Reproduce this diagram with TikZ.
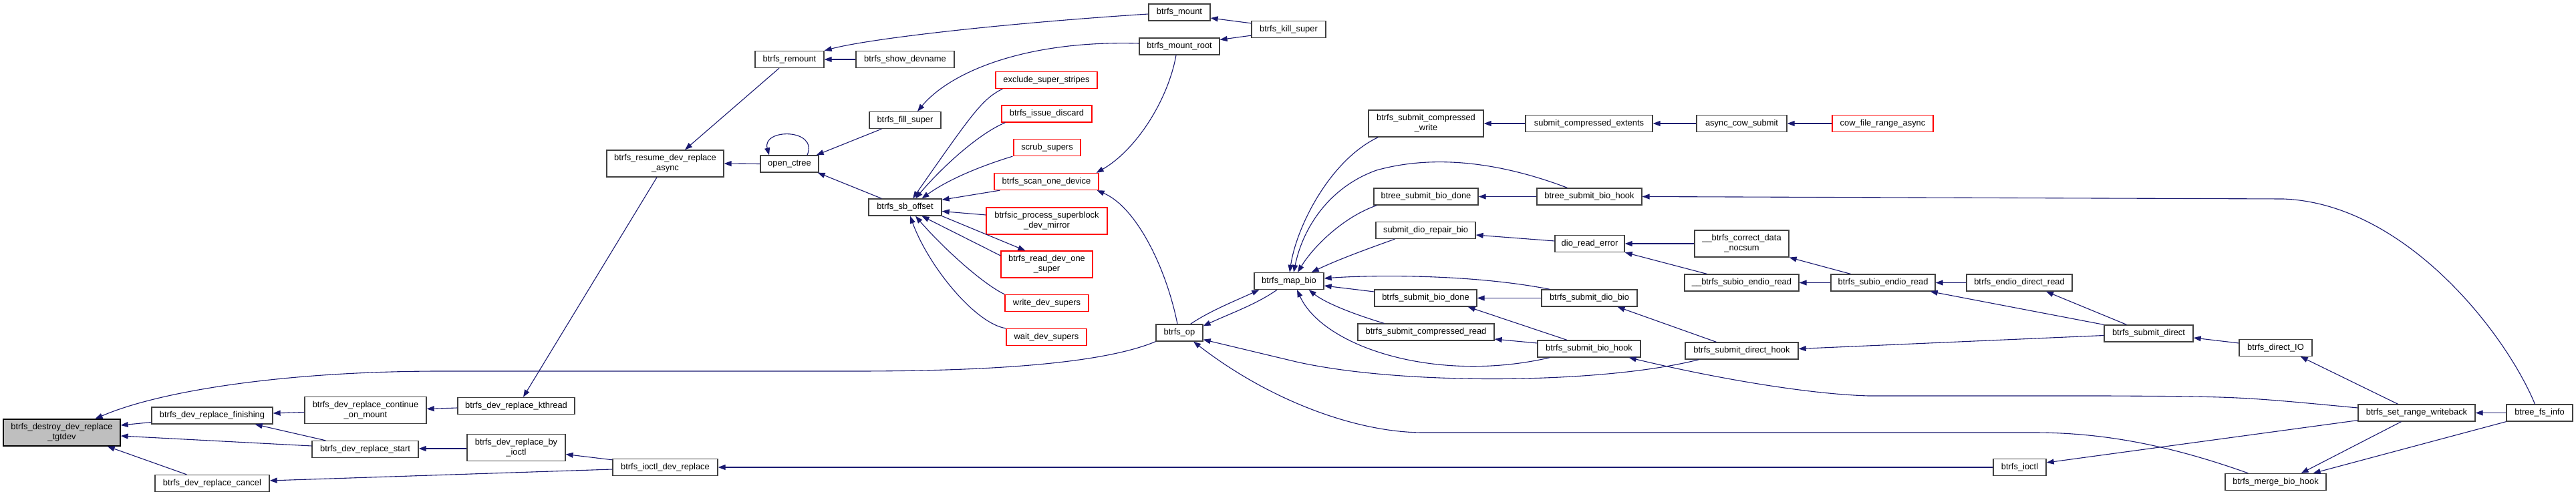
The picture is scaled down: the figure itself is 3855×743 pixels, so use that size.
\documentclass[tikz,border=0pt]{standalone}
\usepackage{fontspec}
\setmainfont{Liberation Sans}
\usetikzlibrary{arrows.meta,positioning,calc}
\definecolor{edgeblue}{HTML}{191970}
\definecolor{rootgray}{HTML}{BFBFBF}
\definecolor{boxline}{HTML}{404040}
\definecolor{truncred}{HTML}{FF0000}
\tikzset{
  fnbox/.style={draw=boxline, rectangle, line width=1.3pt, fill=white, minimum height=25pt, inner sep=0pt, align=center, font=\fontsize{12.9}{15}\selectfont},
  tallbox/.style={fnbox, minimum height=40pt},
  rootbox/.style={tallbox, fill=rootgray, draw=black},
  redbox/.style={fnbox, draw=truncred},
  redtall/.style={tallbox, draw=truncred},
  call/.style={-{Triangle[length=11pt, width=8pt]}, draw=edgeblue, line width=1.1pt},
}
\begin{document}
\begin{tikzpicture}[x=1pt, y=-1pt]
\useasboundingbox (0,0) rectangle (3855,743);

% Left part
\node[rootbox, minimum width=175pt] (destroy) at (92.5,648) {btrfs\_destroy\_dev\_replace\\\_tgtdev};
\node[fnbox, minimum width=181pt] (fin) at (317.5,622.5) {btrfs\_dev\_replace\_finishing};
\node[fnbox, minimum width=171pt] (cancel) at (317.5,724) {btrfs\_dev\_replace\_cancel};
\node[tallbox, minimum width=182pt] (contmount) at (547,614.5) {btrfs\_dev\_replace\_continue\\\_on\_mount};
\node[fnbox, minimum width=159pt] (start) at (546.5,673) {btrfs\_dev\_replace\_start};
\node[fnbox, minimum width=175pt] (kthread) at (772.5,608) {btrfs\_dev\_replace\_kthread};
\node[tallbox, minimum width=147pt] (byioctl) at (772.5,670.5) {btrfs\_dev\_replace\_by\\\_ioctl};
\node[fnbox, minimum width=157pt] (ioctldr) at (995.5,700) {btrfs\_ioctl\_dev\_replace};
\node[tallbox, minimum width=175pt] (resume) at (995.5,245) {btrfs\_resume\_dev\_replace\\\_async};
\node[fnbox, minimum width=103pt] (remount) at (1181.5,89) {btrfs\_remount};
\node[fnbox, minimum width=87pt] (openctree) at (1181.5,245.5) {open\_ctree};
\node[fnbox, minimum width=147pt] (showdev) at (1354.5,89) {btrfs\_show\_devname};
\node[fnbox, minimum width=107pt] (fillsuper) at (1354.5,180) {btrfs\_fill\_super};
\node[fnbox, minimum width=109pt] (sboffset) at (1354.5,310.5) {btrfs\_sb\_offset};

% Super block users
\node[fnbox, minimum width=92pt] (mount) at (1765,18.5) {btrfs\_mount};
\node[fnbox, minimum width=120pt] (mountroot) at (1765,69.5) {btrfs\_mount\_root};
\node[fnbox, minimum width=111pt] (killsuper) at (1928.5,44) {btrfs\_kill\_super};
\node[redbox, minimum width=152pt] (exclude) at (1566,120) {exclude\_super\_stripes};
\node[redbox, minimum width=135pt] (discard) at (1566.5,170.5) {btrfs\_issue\_discard};
\node[redbox, minimum width=100pt] (scrub) at (1567,221) {scrub\_supers};
\node[redbox, minimum width=156pt] (scan) at (1566,272) {btrfs\_scan\_one\_device};
\node[redtall, minimum width=181pt] (btrfsic) at (1566.5,331) {btrfsic\_process\_superblock\\\_dev\_mirror};
\node[redtall, minimum width=137pt] (readone) at (1566.5,396) {btrfs\_read\_dev\_one\\\_super};
\node[redbox, minimum width=125pt] (writesup) at (1566.5,454) {write\_dev\_supers};
\node[redbox, minimum width=120pt] (waitsup) at (1566,505) {wait\_dev\_supers};
\node[fnbox, minimum width=70pt] (op) at (1765,498.5) {btrfs\_op};
\node[fnbox, minimum width=104pt] (mapbio) at (1929,421) {btrfs\_map\_bio};

% Bio submission
\node[tallbox, minimum width=172pt] (compwrite) at (2134,185) {btrfs\_submit\_compressed\\\_write};
\node[fnbox, minimum width=190pt] (compext) at (2378,185) {submit\_compressed\_extents};
\node[fnbox, minimum width=135pt] (asynccow) at (2606.5,185) {async\_cow\_submit};
\node[redbox, minimum width=151pt] (cowrange) at (2817.5,185) {cow\_file\_range\_async};
\node[fnbox, minimum width=156pt] (btreedone) at (2134,294.5) {btree\_submit\_bio\_done};
\node[fnbox, minimum width=157pt] (btreehook) at (2378.5,294.5) {btree\_submit\_bio\_hook};
\node[fnbox, minimum width=149pt] (diorepair) at (2133.5,345) {submit\_dio\_repair\_bio};
\node[fnbox, minimum width=104pt] (dioreaderr) at (2379,365) {dio\_read\_error};
\node[tallbox, minimum width=141pt] (correct) at (2606.5,365) {\_\_btrfs\_correct\_data\\\_nocsum};
\node[fnbox, minimum width=171pt] (subioint) at (2606.5,423.5) {\_\_btrfs\_subio\_endio\_read};
\node[fnbox, minimum width=153pt] (biodone) at (2133.5,446.5) {btrfs\_submit\_bio\_done};
\node[fnbox, minimum width=143pt] (diobio) at (2378.5,446.5) {btrfs\_submit\_dio\_bio};
\node[fnbox, minimum width=204pt] (compread) at (2134,497.5) {btrfs\_submit\_compressed\_read};
\node[fnbox, minimum width=154pt] (biohook) at (2378,522.5) {btrfs\_submit\_bio\_hook};
\node[fnbox, minimum width=169pt] (directhook) at (2606.5,525.5) {btrfs\_submit\_direct\_hook};
\node[fnbox, minimum width=156pt] (subio) at (2818,423.5) {btrfs\_subio\_endio\_read};
\node[fnbox, minimum width=158pt] (endiodirect) at (3022,423.5) {btrfs\_endio\_direct\_read};
\node[fnbox, minimum width=133pt] (submitdirect) at (3215.5,499.5) {btrfs\_submit\_direct};
\node[fnbox, minimum width=79pt] (ioctl) at (3022.5,700) {btrfs\_ioctl};
\node[fnbox, minimum width=109pt] (directio) at (3405.5,521) {btrfs\_direct\_IO};
\node[fnbox, minimum width=175pt] (setrange) at (3616.5,618.5) {btrfs\_set\_range\_writeback};
\node[fnbox, minimum width=99pt] (fsinfo) at (3800.5,618.5) {btree\_fs\_info};
\node[fnbox, minimum width=151pt] (mergehook) at (3405.5,722) {btrfs\_merge\_bio\_hook};

% Calls into the root
\draw[call] (op.south west) .. controls (1650,545) and (1480,556) .. (1280,556) -- (660,556) .. controls (430,556) and (240,585) .. ($(destroy.north)+(50,0)$);
\draw[call] ($(fin.west)+(0,10)$) -- ($(destroy.east)+(0,-11)$);
\draw[call] ($(start.west)+(0,-5)$) -- ($(destroy.east)+(0,5)$);
\draw[call] ($(cancel.north west)+(48,0)$) -- ($(destroy.south east)+(-20,0)$);
\draw[call] ($(contmount.west)+(0,3)$) -- ($(fin.east)+(0,-3.5)$);
\draw[call] ($(start.north west)+(21,0)$) -- ($(fin.south east)+(-27,0)$);
\draw[call] ($(kthread.west)+(0,3)$) -- ($(contmount.east)+(0,-2)$);
\draw[call] ($(byioctl.west)+(0,1.5)$) -- ($(start.east)+(0,-1)$);
\draw[call] ($(ioctldr.west)+(0,3)$) -- ($(cancel.east)+(0,-4)$);
\draw[call] ($(ioctldr.north west)+(0,2)$) -- ($(byioctl.east)+(0,10)$);
\draw[call] (ioctl.west) -- (ioctldr.east);
\draw[call] ($(resume.south)+(-12.5,0)$) -- ($(kthread.north)+(10.5,0)$);
\draw[call] (openctree.west) -- (resume.east);
\draw[call] ($(remount.south)+(-15.5,0)$) -- ($(resume.north)+(29.5,0)$);
\draw[call] (showdev.west) -- (remount.east);
\draw[call] ($(mount.west)+(0,2.5)$) .. controls (1500,35) and (1300,58) .. (remount.north east);
\draw[call] ($(killsuper.north west)+(0,4)$) -- ($(mount.east)+(0,8.5)$);
\draw[call] ($(killsuper.south west)+(0,-4)$) -- ($(mountroot.east)+(0,-10)$);
\draw[call] ($(openctree.north)+(26.5,0)$) .. controls (1225,192) and (1140,192) .. ($(openctree.north)+(-30.5,0)$);
\draw[call] ($(fillsuper.south west)+(19,0)$) -- ($(openctree.north east)+(-4,0)$);
\draw[call] ($(sboffset.north west)+(20,0)$) -- ($(openctree.south east)+(-2,0)$);
\draw[call] ($(mountroot.west)+(0,-4.5)$) .. controls (1530,60) and (1420,110) .. ($(fillsuper.north)+(18.5,0)$);

% Super block offsets
\draw[call] ($(exclude.south west)+(11,0)$) .. controls (1470,148) and (1455,170) .. ($(sboffset.north)+(11.5,0)$);
\draw[call] ($(discard.south west)+(6,0)$) .. controls (1465,200) and (1410,250) .. ($(sboffset.north)+(15.5,0)$);
\draw[call] ($(scrub.south west)+(-1,0)$) .. controls (1470,248) and (1420,268) .. ($(sboffset.north)+(25,0)$);
\draw[call] ($(scan.south west)+(9,0)$) -- ($(sboffset.north east)+(0,2)$);
\draw[call] ($(btrfsic.west)+(0,-9)$) -- ($(sboffset.east)+(0,6)$);
\draw[call] ($(readone.west)+(0,-13)$) -- ($(sboffset.south)+(25,0)$);
\draw[call] (sboffset.south east) -- ($(readone.north west)+(37,0)$);
\draw[call] (writesup.north west) .. controls (1470,425) and (1410,370) .. ($(sboffset.south)+(15.5,0)$);
\draw[call] (waitsup.north west) .. controls (1460,485) and (1390,400) .. ($(sboffset.south)+(7.5,0)$);
\draw[call] ($(mountroot.south)+(-5,0)$) .. controls (1748,150) and (1700,225) .. ($(scan.north east)+(-4,0)$);
\draw[call] ($(op.north)+(-3,0)$) .. controls (1745,400) and (1700,310) .. ($(scan.south east)+(-3,0)$);
\draw[call] ($(op.north east)+(-19,0)$) .. controls (1810,466) and (1850,450) .. ($(mapbio.south west)+(8,0)$);
\draw[call] ($(mapbio.south)+(-18,0)$) .. controls (1880,456) and (1840,470) .. ($(op.north east)+(0,3)$);
\draw[call] ($(directhook.south west)+(21,0)$) .. controls (2400,575) and (2100,578) .. (1940,542) -- ($(op.south east)+(0,-3)$);
\draw[call] ($(mergehook.north west)+(35,0)$) .. controls (3250,668) and (3150,648) .. (3044,648) -- (2130,648) .. controls (2030,648) and (1900,600) .. ($(op.south)+(21,0)$);

% Right part
\draw[call] ($(fsinfo.north)+(-7,0)$) .. controls (3750,500) and (3600,305) .. (3417,298) -- (btreehook.east);
\draw[call] ($(setrange.west)+(0,-7.5)$) .. controls (3350,594) .. (3150,593) -- (2796,593) .. controls (2700,590) and (2560,565) .. ($(biohook.south east)+(-18,0)$);
\draw[call] ($(setrange.south west)+(0,-2)$) -- ($(ioctl.east)+(0,-7)$);
\draw[call] ($(setrange.south)+(-23,0)$) -- ($(mergehook.north east)+(-38,0)$);
\draw[call] (fsinfo.south west) -- ($(mergehook.north east)+(-20,0)$);
\draw[call] (fsinfo.west) -- (setrange.east);
\draw[call] ($(setrange.north)+(-28,0)$) -- ($(directio.south east)+(-18,0)$);
\draw[call] ($(directio.west)+(0,-7)$) -- ($(submitdirect.east)+(0,6.5)$);
\draw[call] (submitdirect.north west) -- ($(subio.south east)+(-8,0)$);
\draw[call] ($(submitdirect.north)+(-33,0)$) -- ($(endiodirect.south)+(40,0)$);
\draw[call] ($(submitdirect.west)+(0,3)$) -- ($(directhook.east)+(0,-3)$);
\draw[call] (endiodirect.west) -- (subio.east);
\draw[call] (subio.west) -- (subioint.east);
\draw[call] ($(subio.north west)+(30,0)$) -- (correct.south east);
\draw[call] ($(subioint.north west)+(34,0)$) -- (dioreaderr.south east);
\draw[call] (correct.west) -- (dioreaderr.east);
\draw[call] ($(dioreaderr.west)+(0,-4)$) -- ($(diorepair.east)+(0,7)$);
\draw[call] ($(directhook.north)+(-38,0)$) -- ($(diobio.south)+(42,0)$);
\draw[call] (diobio.west) -- (biodone.east);
\draw[call] ($(biohook.north)+(-33,0)$) -- ($(biodone.south east)+(-14,0)$);
\draw[call] ($(biohook.west)+(0,-8.5)$) -- ($(compread.east)+(0,10.5)$);
\draw[call] (compext.west) -- (compwrite.east);
\draw[call] (asynccow.west) -- (compext.east);
\draw[call] (cowrange.west) -- (asynccow.east);
\draw[call] (btreehook.west) -- (btreedone.east);

% Calls into btrfs_map_bio
\draw[call] ($(compwrite.south west)+(15,0)$) .. controls (1990,240) and (1940,340) .. ($(mapbio.north)+(1,0)$);
\draw[call] ($(btreehook.north)+(-33,0)$) .. controls (2250,245) and (2150,230) .. (2060,255) .. controls (1990,280) and (1950,340) .. ($(mapbio.north)+(7,0)$);
\draw[call] ($(btreedone.south west)+(5,0)$) .. controls (2010,325) and (1965,370) .. ($(mapbio.north)+(13,0)$);
\draw[call] ($(diorepair.south west)+(29,0)$) .. controls (2040,375) and (2000,390) .. ($(mapbio.north east)+(-19,0)$);
\draw[call] ($(diobio.north west)+(13,0)$) .. controls (2200,410) and (2050,412) .. ($(mapbio.east)+(0,-4)$);
\draw[call] ($(biodone.west)+(0,-9.5)$) -- ($(mapbio.east)+(0,7)$);
\draw[call] ($(compread.north west)+(40,0)$) .. controls (2030,472) and (1985,455) .. ($(mapbio.south east)+(-23,0)$);
\draw[call] ($(biohook.south west)+(19,0)$) .. controls (2150,575) and (1980,520) .. ($(mapbio.south)+(12,0)$);

\end{tikzpicture}
\end{document}
